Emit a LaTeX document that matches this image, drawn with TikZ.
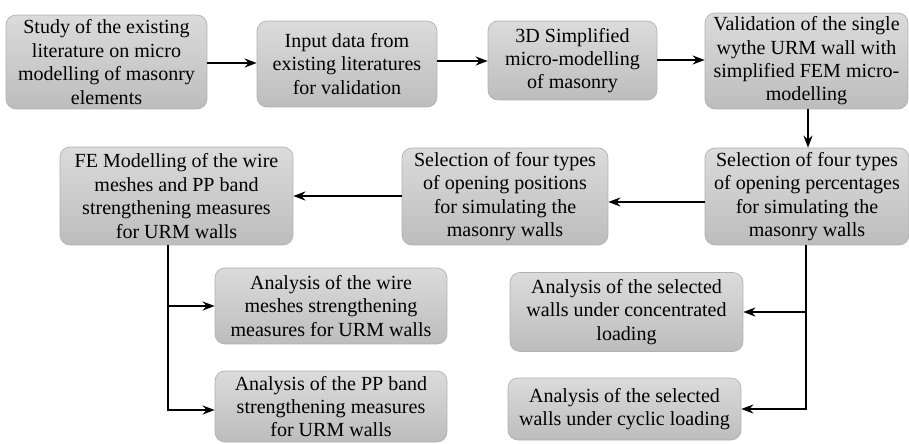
\documentclass[tikz,border=0pt]{standalone}
\usepackage{fontspec}
\setmainfont{Liberation Serif}
\usetikzlibrary{arrows.meta}

\tikzset{
  stage/.style = {draw = gray!62, rounded corners = 0.2cm, top color = gray!28, bottom color = gray!52,
    align = center, inner sep = 0pt, font = \fontsize{11.4}{13.3}\selectfont},
  flow/.style = {line width = 1.1pt, -{Stealth[length = 2.4mm, width = 1.8mm]}}
}

\begin{document}
\begin{tikzpicture} [x = 0.02cm, y = -0.02cm]
\useasboundingbox (0, 0) rectangle (909, 443);
\node[stage, minimum width = 4.02cm, minimum height = 1.88cm] (study) at (106.5, 62.0){Study of the existing\\literature on micro\\modelling of masonry\\elements};
\node[stage, minimum width = 3.60cm, minimum height = 1.72cm] (input) at (347.0, 64.0){Input data from\\existing literatures\\for validation};
\node[stage, minimum width = 3.38cm, minimum height = 1.58cm] (simple) at (572.5, 60.5){3D Simplified\\micro-modelling\\of masonry};
\node[stage, minimum width = 4.06cm, minimum height = 1.92cm] (valid) at (806.5, 61.0){Validation of the single\\wythe URM wall with\\simplified FEM micro-\\modelling};
\node[stage, minimum width = 4.08cm, minimum height = 1.94cm] (percent) at (807.0, 196.5){Selection of four types\\of opening percentages\\for simulating the\\masonry walls};
\node[stage, minimum width = 4.12cm, minimum height = 1.94cm] (position) at (505.0, 196.5){Selection of four types\\of opening positions\\for simulating the\\masonry walls};
\node[stage, minimum width = 4.66cm, minimum height = 1.96cm] (femodel) at (176.5, 196.0){FE Modelling of the wire\\meshes and PP band\\strengthening measures\\for URM walls};
\node[stage, minimum width = 4.64cm, minimum height = 1.52cm] (wire) at (331.0, 306.0){Analysis of the wire\\meshes strengthening\\measures for URM walls};
\node[stage, minimum width = 4.64cm, minimum height = 1.42cm] (ppband) at (331.0, 406.5){Analysis of the PP band\\strengthening measures\\for URM walls};
\node[stage, minimum width = 4.66cm, minimum height = 1.58cm] (concen) at (626.5, 312.0){Analysis of the selected\\walls under concentrated\\loading};
\node[stage, minimum width = 4.66cm, minimum height = 1.24cm] (cyclic) at (624.5, 409.0){Analysis of the selected\\walls under cyclic loading};
\coordinate (femdrop) at (168.0, 245.0);
\coordinate (pctdrop) at (806.0, 245.0);
\draw[flow] (study.east |- 0, 63) -- (input.west |- 0, 63);
\draw[flow] (input.east |- 0, 61) -- (simple.west |- 0, 61);
\draw[flow] (simple.east |- 0, 60) -- (valid.west |- 0, 60);
\draw[flow] (valid.south -| 808, 0) -- (percent.north -| 808, 0);
\draw[flow] (percent.west |- 0, 202) -- (position.east |- 0, 202);
\draw[flow] (position.west |- 0, 196) -- (femodel.east |- 0, 196);
\draw[flow] (femdrop) |- (wire.west);
\draw[flow] (femdrop) |- (ppband.west |- 0, 410);
\draw[flow] (pctdrop) |- (concen.east);
\draw[flow] (pctdrop) |- (cyclic.east);
\end{tikzpicture}
\end{document}
